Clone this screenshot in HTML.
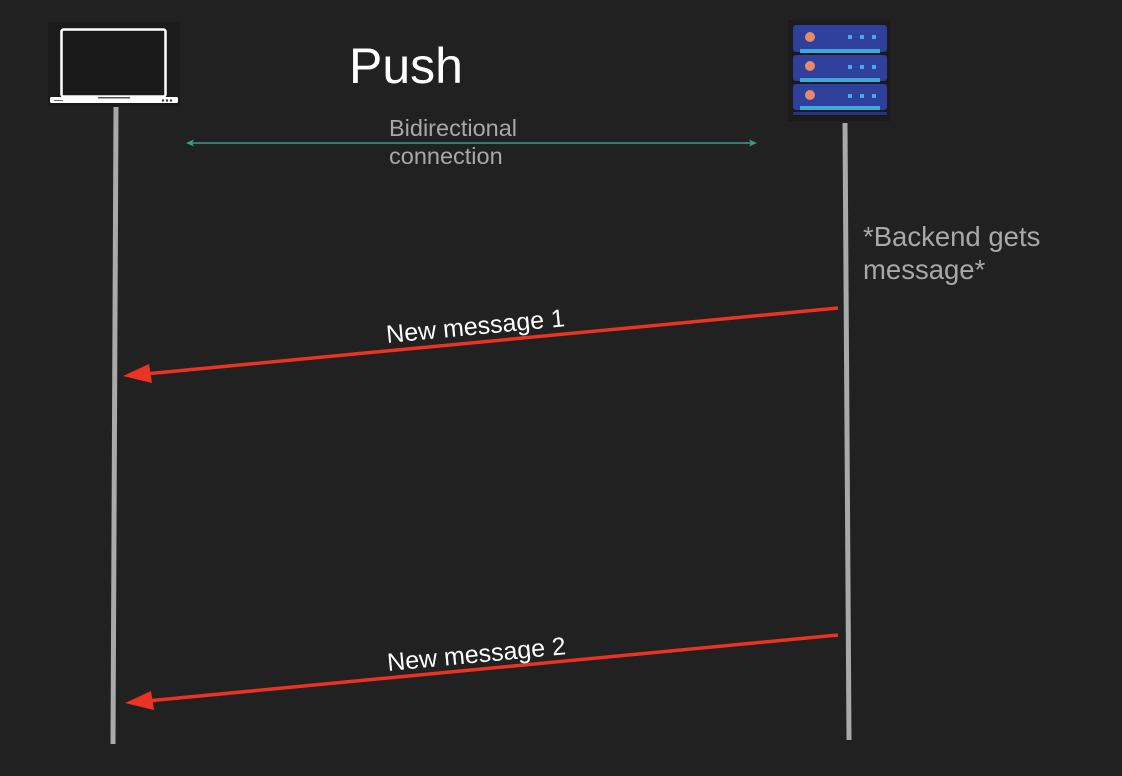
<!DOCTYPE html>
<html><head><style>
html,body{margin:0;padding:0;background:#212121;}
svg{display:block}
text{font-family:"Liberation Sans",Arial,sans-serif}
</style></head><body>
<svg width="1122" height="776" viewBox="0 0 1122 776" xmlns="http://www.w3.org/2000/svg">
<rect width="1122" height="776" fill="#212121"/>
<!-- laptop -->
<rect x="48" y="22" width="132" height="84" fill="#1b1b1b"/>
<rect x="61.5" y="29.5" width="104" height="67" rx="2" fill="#1a1a1a" stroke="#fff" stroke-width="2.5"/>
<rect x="50" y="97" width="128" height="6" rx="1.5" fill="#fff"/>
<rect x="98" y="97" width="32" height="1.5" fill="#555"/>
<rect x="54" y="100" width="9" height="1" fill="#666"/>
<circle cx="163" cy="100.5" r="1.2" fill="#333"/><circle cx="167" cy="100.5" r="1.2" fill="#333"/><circle cx="171" cy="100.5" r="1.2" fill="#333"/>
<!-- server -->
<rect x="788" y="20" width="102" height="101" fill="#1b1b1b"/>
<g>
<rect x="793" y="25" width="94" height="27" rx="3" fill="#2f3f9c"/>
<rect x="800" y="49" width="80" height="4" fill="#3fa6e0"/>
<circle cx="810" cy="37" r="5" fill="#e88a6a"/>
<rect x="848" y="35" width="4" height="4" fill="#4aa8ea"/><rect x="860" y="35" width="4" height="4" fill="#4aa8ea"/><rect x="872" y="35" width="4" height="4" fill="#4aa8ea"/>
<rect x="793" y="55" width="94" height="26" rx="3" fill="#2f3f9c"/>
<rect x="800" y="78" width="80" height="4" fill="#3fa6e0"/>
<circle cx="810" cy="66" r="5" fill="#e88a6a"/>
<rect x="848" y="65" width="4" height="4" fill="#4aa8ea"/><rect x="860" y="65" width="4" height="4" fill="#4aa8ea"/><rect x="872" y="65" width="4" height="4" fill="#4aa8ea"/>
<rect x="793" y="84" width="94" height="26" rx="3" fill="#2f3f9c"/>
<rect x="800" y="106" width="80" height="4" fill="#3fa6e0"/>
<rect x="793" y="112" width="94" height="3" fill="#26337f"/>
<circle cx="810" cy="95" r="5" fill="#e88a6a"/>
<rect x="848" y="94" width="4" height="4" fill="#4aa8ea"/><rect x="860" y="94" width="4" height="4" fill="#4aa8ea"/><rect x="872" y="94" width="4" height="4" fill="#4aa8ea"/>
</g>
<!-- lifelines -->
<line x1="116" y1="107" x2="113" y2="744" stroke="#a9a9a9" stroke-width="5"/>
<line x1="845" y1="123" x2="849" y2="740" stroke="#a9a9a9" stroke-width="5"/>
<!-- title -->
<text x="349" y="83" font-size="50" fill="#fff">Push</text>
<!-- bidirectional -->
<line x1="188" y1="143" x2="755" y2="143" stroke="#3e9c88" stroke-width="1.5"/>
<path d="M186 143 L194 139.5 L192 143 L194 146.5 Z" fill="#3e9c88"/>
<path d="M757 143 L749 139.5 L751 143 L749 146.5 Z" fill="#3e9c88"/>
<text x="389" y="136" font-size="23.5" fill="#a8a8a8">Bidirectional</text>
<text x="389" y="164" font-size="23.5" fill="#a8a8a8">connection</text>
<!-- backend note -->
<text x="863" y="246" font-size="27.5" fill="#a8a8a8">*Backend gets</text>
<text x="863" y="279" font-size="27.5" fill="#a8a8a8">message*</text>
<!-- arrows -->
<line x1="838" y1="308" x2="145" y2="374" stroke="#ea3323" stroke-width="3.5"/>
<path d="M123 376 L149 364 L152 383 Z" fill="#ea3323"/>
<text x="0" y="0" font-size="25" fill="#fff" transform="translate(387 343) rotate(-5.4)">New message 1</text>
<line x1="838" y1="635" x2="147" y2="701" stroke="#ea3323" stroke-width="3.5"/>
<path d="M125 703 L151 691 L154 710 Z" fill="#ea3323"/>
<text x="0" y="0" font-size="25" fill="#fff" transform="translate(388 671) rotate(-5.4)">New message 2</text>
</svg>
</body></html>
